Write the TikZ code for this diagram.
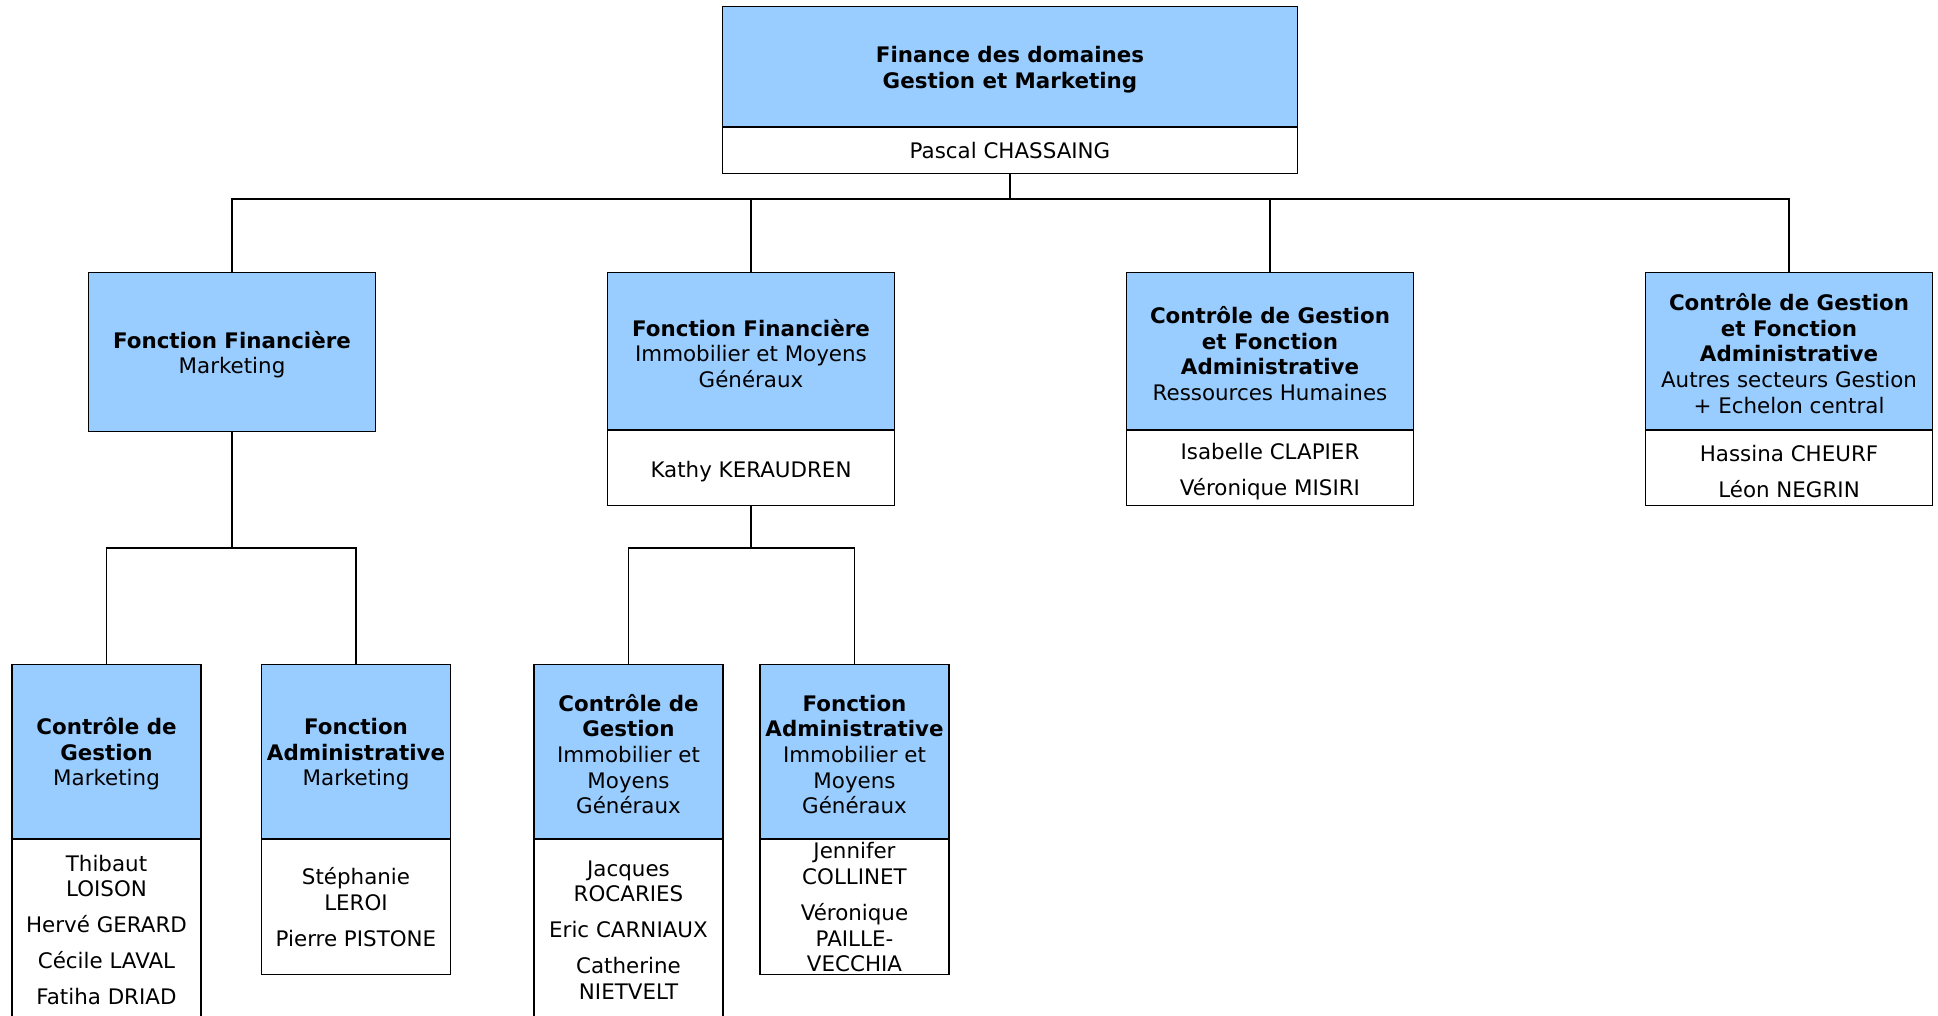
\documentclass[tikz,border=0pt]{standalone}
\usepackage{fontspec}
\setmainfont{DejaVu Sans}
\definecolor{boxblue}{RGB}{153,204,255}
\newcommand\tpstrut{\rule{0pt}{11pt}}
\tikzset{
  base/.style={draw=black, line width=0.6pt, rectangle, inner sep=0pt, align=center,
    font=\fontsize{10.7}{12.8}\selectfont},
  bluebox/.style={base, fill=boxblue},
  whitebox/.style={base, fill=white},
  names/.style={align=center, inner sep=0pt, font=\fontsize{10.7}{12.8}\selectfont},
  link/.style={draw=black, line width=0.6pt},
  wtop/.style={minimum width=287.5pt},
  wmid/.style={minimum width=143.5pt},
  wlow/.style={minimum width=94.5pt}
}
\begin{document}
\begin{tikzpicture}[x=0.5pt, y=-0.5pt]
\useasboundingbox (0,0) rectangle (1938,1016);

% top
\node[bluebox, wtop, minimum height=60pt, anchor=north] (top) at (1010,6)
  {\tpstrut\textbf{Finance des domaines}\\\textbf{Gestion et Marketing}};
\node[whitebox, wtop, minimum height=23pt, anchor=north] (topw) at (top.south) {Pascal CHASSAING};

% level 2
\node[bluebox, wmid, minimum height=79.5pt, anchor=north] (b1) at (232,272)
  {\tpstrut\textbf{Fonction Financière}\\Marketing};

\node[bluebox, wmid, minimum height=78.5pt, anchor=north] (b2) at (751,272)
  {\tpstrut\textbf{Fonction Financière}\\Immobilier et Moyens\\Généraux};
\node[whitebox, wmid, minimum height=37.5pt, anchor=north] (b2w) at (b2.south) {\tpstrut Kathy KERAUDREN};

\node[bluebox, wmid, minimum height=78.5pt, anchor=north] (b3) at (1270,272)
  {\tpstrut\textbf{Contrôle de Gestion}\\\textbf{et Fonction}\\\textbf{Administrative}\\Ressources Humaines};
\node[whitebox, wmid, minimum height=37.5pt, anchor=north] (b3w) at (b3.south)
  {\tpstrut Isabelle CLAPIER\\[5.2pt]Véronique MISIRI};

\node[bluebox, wmid, minimum height=78.5pt, anchor=north] (b4) at (1789,272)
  {\tpstrut\textbf{Contrôle de Gestion}\\\textbf{et Fonction}\\\textbf{Administrative}\\Autres secteurs Gestion\\+ Echelon central};
\node[whitebox, wmid, minimum height=37.5pt, anchor=north] (b4w) at (b4.south)
  {\tpstrut Hassina CHEURF\\[5.2pt]Léon NEGRIN};

% level 3
\node[bluebox, wlow, minimum height=87pt, anchor=north] (c1) at (106.5,664)
  {\tpstrut\textbf{Contrôle de}\\\textbf{Gestion}\\Marketing};
\node[whitebox, wlow, minimum height=95pt, anchor=north] (c1w) at (c1.south) {};
\node[names] (c1n) at (106.5,930)
  {Thibaut\\LOISON\\[5.2pt]Hervé GERARD\\[5.2pt]Cécile LAVAL\\[5.2pt]Fatiha DRIAD};

\node[bluebox, wlow, minimum height=87pt, anchor=north] (c2) at (356,664)
  {\tpstrut\textbf{Fonction}\\\textbf{Administrative}\\Marketing};
\node[whitebox, wlow, minimum height=67.5pt, anchor=north] (c2w) at (c2.south)
  {Stéphanie\\LEROI\\[5.2pt]Pierre PISTONE};

\node[bluebox, wlow, minimum height=87pt, anchor=north] (c3) at (628.5,664)
  {\tpstrut\textbf{Contrôle de}\\\textbf{Gestion}\\Immobilier et\\Moyens\\Généraux};
\node[whitebox, wlow, minimum height=95pt, anchor=north] (c3w) at (c3.south) {};
\node[names] (c3n) at (628.5,930)
  {Jacques\\ROCARIES\\[5.2pt]Eric CARNIAUX\\[5.2pt]Catherine\\NIETVELT};

\node[bluebox, wlow, minimum height=87pt, anchor=north] (c4) at (854.5,664)
  {\tpstrut\textbf{Fonction}\\\textbf{Administrative}\\Immobilier et\\Moyens\\Généraux};
\node[whitebox, wlow, minimum height=67.5pt, anchor=north] (c4w) at (c4.south)
  {Jennifer\\COLLINET\\[5.2pt]Véronique\\PAILLE-\\VECCHIA};

% connectors
\coordinate (j0) at (1010,199);
\draw[link] (topw.south) -- (j0);
\draw[link] (b1.north) |- (j0) -| (b4.north);
\draw[link] (b2.north) -- (b2.north |- j0);
\draw[link] (b3.north) -- (b3.north |- j0);

\coordinate (j1) at (232,548);
\draw[link] (b1.south) -- (j1);
\draw[link] (c1.north) |- (j1) -| (c2.north);

\coordinate (j2) at (751,548);
\draw[link] (b2w.south) -- (j2);
\draw[link] (c3.north) |- (j2) -| (c4.north);
\end{tikzpicture}
\end{document}
